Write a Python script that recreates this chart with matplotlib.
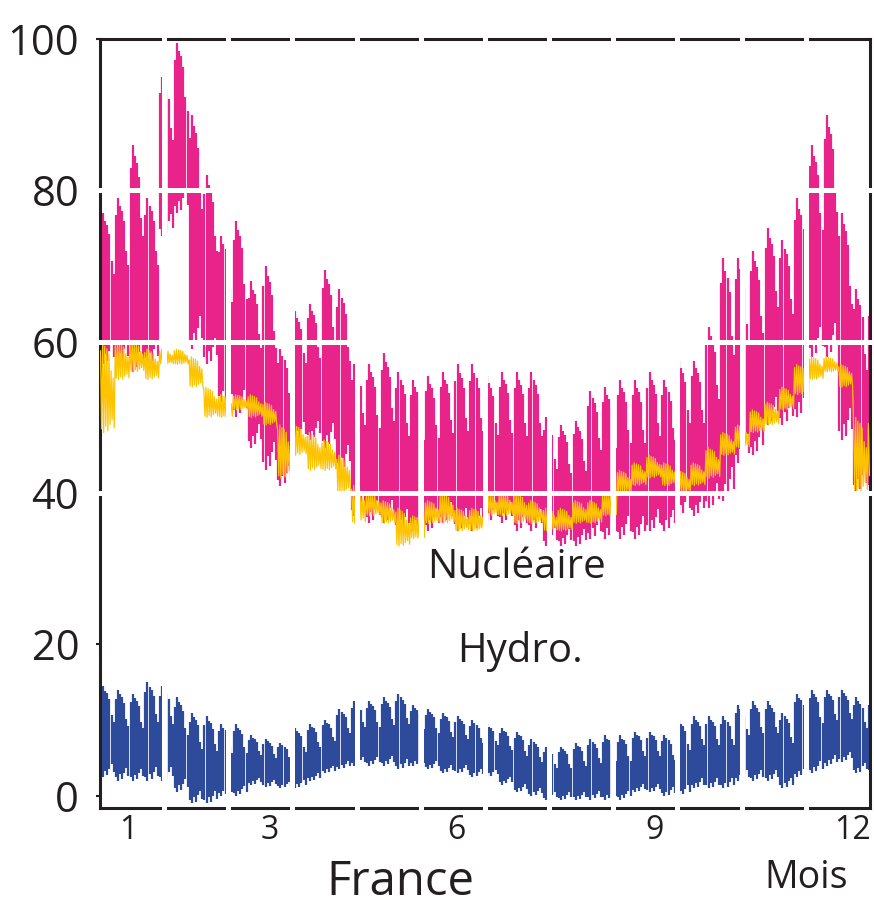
import numpy as np
import matplotlib.pyplot as plt

plt.rcParams['font.family'] = ['Open Sans', 'DejaVu Sans']

# weekly readings, week 0 = first week of January (53 weeks)
pink_hi = [77, 79, 86, 79, 95, 99.5, 90, 82, 74, 76, 68, 70, 59, 64, 65, 69.5, 67,
           57, 57, 58.5, 56, 55, 55.5, 56, 57, 57, 55.5, 56, 56, 56, 50, 49, 49.5,
           53.5, 54, 55, 55, 56, 55, 57.5, 57.5, 62, 71, 71, 72, 75, 73.5, 79, 86,
           90, 77, 67, 66]
pink_lo = [57, 57, 56, 57, 74, 77, 59, 57, 52, 50, 46, 43, 41, 47, 47, 46, 43,
           37, 36, 36, 35, 35, 35, 36, 35, 35, 36, 36, 35, 35, 33, 33, 33,
           34, 34, 34, 34, 35, 35, 37, 37, 38, 39, 44, 45, 49, 49, 50, 58,
           58, 47, 40, 40]
nuc_hi = [60, 60, 60, 59, 59, 59, 58, 54, 53, 53, 53, 52, 49, 49, 48, 47, 45,
          41, 40, 39, 38, 37, 39, 40, 38, 38, 40, 40, 40, 39, 38, 38, 39,
          39, 40, 43, 44, 45, 44, 43, 44, 46, 48, 49, 51, 52, 54, 57, 58,
          58, 57, 50, 50]
nuc_lo = [48, 55, 56, 55, 57, 57, 54, 50, 50, 51, 50, 49, 42, 45, 43, 43, 40,
          36, 37, 36, 33, 34, 36, 36, 35, 35, 37, 37, 36, 36, 35, 35, 36,
          36, 37, 40, 41, 42, 41, 40, 41, 42, 45, 46, 48, 49, 51, 53, 55,
          56, 54, 40, 42]
hydro_hi = [14.5, 14, 13.5, 15, 14.5, 13, 11, 10.5, 9.5, 9.5, 8, 7.5, 7, 9, 9.5, 10, 11.5,
            12.5, 12.5, 13, 13.5, 12, 11.5, 11, 10.5, 10, 9.5, 9, 8.5, 7.5, 6.5, 6.5, 7,
            7.5, 8, 8, 8.5, 8.5, 8, 10, 10.5, 10.5, 10.5, 12, 12.5, 12.5, 11, 13.5, 14,
            14, 14, 13, 13]
hydro_lo = [2.5, 2, 2, 2, 2, 0.5, -1, -1, 0, 0, 1.5, 1.2, 1, 1, 2, 3, 3.5,
            4, 4, 4, 3.5, 4, 3.5, 3, 3, 2.5, 2.5, 1.5, 0.5, 0, -0.5, -0.5, -0.5,
            -0.5, -0.5, -0.5, 0.5, 0.5, 0, 0, 1, 1, 1, 2, 2, 2, 1, 2.5, 3,
            4, 4.5, 3, 3]

# share of the weekly range reached on each day of the week
day_top = [0.90, 1.00, 0.95, 0.92, 0.86, 0.68, 0.60]
day_bottom = [0.04, 0.00, 0.07, 0.02, 0.09, 0.14, 0.05]

tick_pos = [0.44, 2.65, 5.56, 8.65, 11.72]
tick_labels = ['1', '3', '6', '9', '12']

PINK = '#e8238a'
YELLOW = '#fdc300'
BLUE = '#2d4a9b'
INK = '#231f20'

days = np.arange(365)
week = days // 7
dow = days % 7
x = (days + 0.5) * 12 / 365


def daily(hi, lo):
    hi = np.asarray(hi, float)[week]
    lo = np.asarray(lo, float)[week]
    top = lo + (hi - lo) * np.take(day_top, dow)
    bot = lo + (hi - lo) * np.take(day_bottom, dow)
    return bot, top


fig = plt.figure(figsize=(8.74, 9.17), dpi=100)
ax = fig.add_axes([0.1144, 0.1189, 0.8810, 0.8386])

pb, pt = daily(pink_hi, pink_lo)
ax.vlines(x, pb, pt, color=PINK, lw=1.6, zorder=2)

nb, nt = daily(nuc_hi, nuc_lo)
xz = np.column_stack([days + 0.25, days + 0.75]).ravel() * 12 / 365
yz = np.column_stack([nt, nb]).ravel()
ax.plot(xz, yz, color=YELLOW, lw=0.9, zorder=3)

hb, ht = daily(hydro_hi, hydro_lo)
ax.vlines(x, hb, ht, color=BLUE, lw=1.6, zorder=2)

# white separators: months and 40/60/80 levels
for k in range(1, 12):
    ax.plot([k, k], [-0.012, 1.012], transform=ax.get_xaxis_transform(),
            color='white', lw=3.6, clip_on=False, zorder=5)
for v in (40, 60, 80):
    ax.plot([-0.006, 1.006], [v, v], transform=ax.get_yaxis_transform(),
            color='white', lw=3.6, clip_on=False, zorder=5)

ax.set_xlim(0, 12)
ax.set_ylim(-1.6, 100)
ax.set_yticks([0, 20, 40, 60, 80, 100])
ax.set_xticks(tick_pos)
ax.set_xticklabels(tick_labels)
ax.tick_params(axis='y', direction='out', length=3, width=1.5, color=INK,
               labelcolor=INK, labelsize=30, pad=12)
ax.tick_params(axis='x', length=0, labelcolor=INK, labelsize=23, pad=4)
for s in ax.spines.values():
    s.set_color(INK)
    s.set_linewidth(2.2)

ax.text(6.49, 28.8, 'Nucléaire', ha='center', va='baseline', fontsize=29,
        color=INK, zorder=6)
ax.text(6.55, 17.7, 'Hydro.', ha='center', va='baseline', fontsize=29,
        color=INK, zorder=6)
fig.text(0.922, 0.0316, 'Mois', ha='center', va='baseline', fontsize=27, color=INK)
fig.text(0.4577, 0.024, 'France', ha='center', va='baseline', fontsize=34, color=INK)

fig.savefig('out.png', dpi=100)
